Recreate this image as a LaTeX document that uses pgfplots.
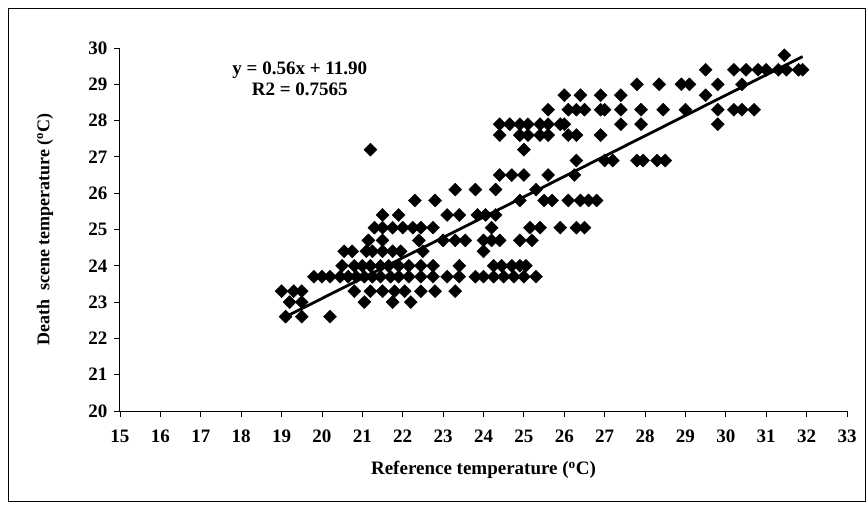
\documentclass[border=0pt]{standalone}
\usepackage{fontspec}
\setmainfont{Liberation Serif}
\usepackage{pgfplots}
\pgfplotsset{compat=1.18}

\pgfplotstableread{
x y
19.1 22.6
19.5 22.6
20.2 22.6
19.2 23.0
19.5 23.0
21.05 23.0
21.75 23.0
22.2 23.0
19.0 23.3
19.3 23.3
19.5 23.3
20.8 23.3
21.2 23.3
21.5 23.3
21.8 23.3
22.05 23.3
22.45 23.3
22.8 23.3
23.3 23.3
19.8 23.7
20.0 23.7
20.2 23.7
20.45 23.7
20.65 23.7
20.85 23.7
21.05 23.7
21.25 23.7
21.45 23.7
21.7 23.7
21.9 23.7
22.15 23.7
22.45 23.7
22.75 23.7
23.1 23.7
23.4 23.7
23.8 23.7
24.0 23.7
24.25 23.7
24.5 23.7
24.75 23.7
25.0 23.7
25.3 23.7
20.5 24.0
20.8 24.0
21.0 24.0
21.2 24.0
21.45 24.0
21.65 24.0
21.9 24.0
22.15 24.0
22.45 24.0
22.75 24.0
23.4 24.0
24.25 24.0
24.45 24.0
24.7 24.0
24.9 24.0
25.05 24.0
20.55 24.4
20.75 24.4
21.1 24.4
21.25 24.4
21.5 24.4
21.75 24.4
21.95 24.4
22.5 24.4
24.0 24.4
21.15 24.7
21.5 24.7
22.4 24.7
23.0 24.7
23.3 24.7
23.55 24.7
24.0 24.7
24.2 24.7
24.4 24.7
24.9 24.7
25.2 24.7
21.3 25.05
21.5 25.05
21.75 25.05
22.0 25.05
22.25 25.05
22.45 25.05
22.75 25.05
24.2 25.05
25.15 25.05
25.4 25.05
25.9 25.05
26.3 25.05
26.5 25.05
21.5 25.4
21.9 25.4
23.1 25.4
23.4 25.4
23.85 25.4
24.05 25.4
24.3 25.4
22.3 25.8
22.8 25.8
24.9 25.8
25.5 25.8
25.7 25.8
26.1 25.8
26.4 25.8
26.6 25.8
26.8 25.8
23.3 26.1
23.8 26.1
24.3 26.1
25.3 26.1
24.4 26.5
24.7 26.5
25.0 26.5
25.6 26.5
26.25 26.5
26.3 26.9
27.0 26.9
27.2 26.9
27.8 26.9
27.95 26.9
28.3 26.9
28.5 26.9
21.2 27.2
25.0 27.2
24.4 27.6
24.9 27.6
25.1 27.6
25.4 27.6
25.6 27.6
26.1 27.6
26.3 27.6
26.9 27.6
24.4 27.9
24.65 27.9
24.9 27.9
25.1 27.9
25.4 27.9
25.6 27.9
25.9 27.9
26.0 27.9
27.4 27.9
27.9 27.9
29.8 27.9
25.6 28.3
26.1 28.3
26.3 28.3
26.5 28.3
26.9 28.3
27.0 28.3
27.4 28.3
27.9 28.3
28.45 28.3
29.0 28.3
29.8 28.3
30.2 28.3
30.4 28.3
30.7 28.3
26.0 28.7
26.4 28.7
26.9 28.7
27.4 28.7
29.5 28.7
27.8 29.0
28.35 29.0
28.9 29.0
29.1 29.0
29.8 29.0
30.4 29.0
29.5 29.4
30.2 29.4
30.5 29.4
30.8 29.4
31.0 29.4
31.3 29.4
31.5 29.4
31.8 29.4
31.9 29.4
31.45 29.8
}\datatable

\begin{document}
\begin{tikzpicture}[x=1pt,y=1pt]
\useasboundingbox (0,0) rectangle (868,504);
\draw[line width=1pt] (8,3) rectangle (865,495);
\begin{axis}[
  at={(120pt,93pt)}, anchor=south west,
  scale only axis,
  width=727pt, height=363pt,
  xmin=15, xmax=33, ymin=20, ymax=30,
  xtick={15,16,...,33}, ytick={20,21,...,30},
  axis x line=bottom, axis y line=left,
  axis line style={-, line width=1pt},
  tick align=outside, major tick length=6pt,
  tick style={line width=0.8pt, black},
  tick label style={font=\bfseries\fontsize{19}{21}\selectfont},
  xticklabel style={yshift=-9pt},
  yticklabel style={xshift=-3pt},
  /pgf/number format/assume math mode=true,
  clip=false,
]
\addplot[only marks, mark=square*, mark size=4.6pt, black,
  mark options={rotate=45}] table[x=x, y=y] {\datatable};
\addplot[black, line width=2.8pt, no marks] coordinates {
  (19.1,22.596) (31.9,29.764)
};
\node[font=\bfseries\fontsize{19}{21}\selectfont, align=center]
  at (axis cs:19.45,29.16) {y = 0.56x + 11.90\\R2 = 0.7565};
\node[font=\bfseries\fontsize{19}{21}\selectfont]
  at (axis description cs:0.5,-0.163) {Reference temperature (\textsuperscript{o}C)};
\node[font=\bfseries\fontsize{18}{20}\selectfont, rotate=90]
  at (axis description cs:-0.103,0.5) {Death\ \ scene temperature (\textsuperscript{o}C)};
\end{axis}
\end{tikzpicture}
\end{document}
